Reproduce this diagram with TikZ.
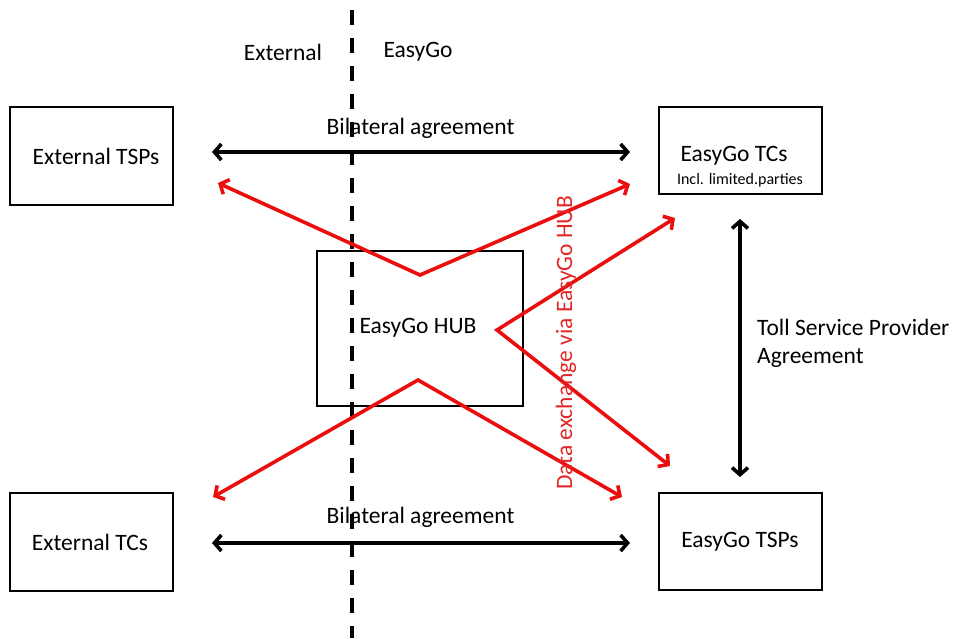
\documentclass[tikz,border=0pt]{standalone}
\usepackage{fontspec}
\setmainfont{Carlito}
\usetikzlibrary{arrows.meta}
\definecolor{arrowred}{RGB}{234,14,14}
\definecolor{textred}{RGB}{226,38,38}
\tikzset{
  box/.style={draw=black, line width=2.2pt, minimum width=163pt, minimum height=98pt, inner sep=0pt},
  txt/.style={font=\fontsize{23.5}{28}\selectfont, inner sep=0pt},
  smalltxt/.style={font=\fontsize{16}{19}\selectfont, inner sep=0pt},
  blackarrow/.style={line width=3.6pt, {Straight Barb[length=7pt,width=16pt]}-{Straight Barb[length=7pt,width=16pt]}},
  redarrow/.style={draw=arrowred, line width=3.6pt, {Straight Barb[length=7pt,width=16pt]}-{Straight Barb[length=7pt,width=16pt]}},
  divider/.style={line width=3.5pt, dash pattern=on 15pt off 13pt}
}
\begin{document}
\begin{tikzpicture}[x=1pt, y=-1pt]
\useasboundingbox (0,0) rectangle (956,638);

% dashed divider
\coordinate (dtop) at (352,10);
\coordinate (dbot) at (352,638);
\draw[divider] (dtop) -- (dbot);

\node[txt] (lext) at (283,52) {External};
\node[txt] (leg) at (418,52) {EasyGo};

% boxes
\node[box] (etsp) at (91.5,156) {};
\node[txt] (etspt) at (96,156) {External TSPs};
\node[box, minimum height=87pt] (egtc) at (740.5,150.5) {};
\node[txt] (egtct) at (734,156) {EasyGo TCs};
\node[smalltxt] (egtcs) at (740,180) {Incl. limited.parties};
\node[box] (etc) at (91.5,542) {};
\node[txt] (etct) at (90,542) {External TCs};
\node[box, minimum height=97pt] (egtsp) at (740.5,541.5) {};
\node[txt] (egtspt) at (740,542) {EasyGo TSPs};
\node[box, minimum width=206pt, minimum height=155pt] (hub) at (420,328.5) {};
\node[txt] (hubt) at (418,328) {EasyGo HUB};

% black arrows
\coordinate (b1l) at (212,152);
\coordinate (b1r) at (630,152);
\draw[blackarrow] (b1l) -- (b1r);
\node[txt] (bl1) at (420.5,128) {Bilateral agreement};
\coordinate (b2l) at (212,543);
\coordinate (b2r) at (630,543);
\draw[blackarrow] (b2l) -- (b2r);
\node[txt] (bl2) at (420.5,517) {Bilateral agreement};
\coordinate (vt) at (740,219);
\coordinate (vb) at (740,477);
\draw[blackarrow] (vt) -- (vb);
\node[txt, anchor=west, align=left] (tsp) at (757,343) {Toll Service Provider\\Agreement};

% red arrows
\coordinate (r1a) at (218,183);
\coordinate (r1v) at (420,275);
\coordinate (r1b) at (630,184);
\draw[redarrow] (r1a) -- (r1v) -- (r1b);
\coordinate (r2a) at (675,218);
\coordinate (r2v) at (497,330);
\coordinate (r2b) at (670,466);
\draw[redarrow] (r2a) -- (r2v) -- (r2b);
\coordinate (r3a) at (213,497);
\coordinate (r3v) at (418,380);
\coordinate (r3b) at (622,497);
\draw[redarrow] (r3a) -- (r3v) -- (r3b);

\node[txt, text=textred, rotate=90] (dx) at (566,343) {Data exchange via EasyGo HUB};
\end{tikzpicture}
\end{document}
